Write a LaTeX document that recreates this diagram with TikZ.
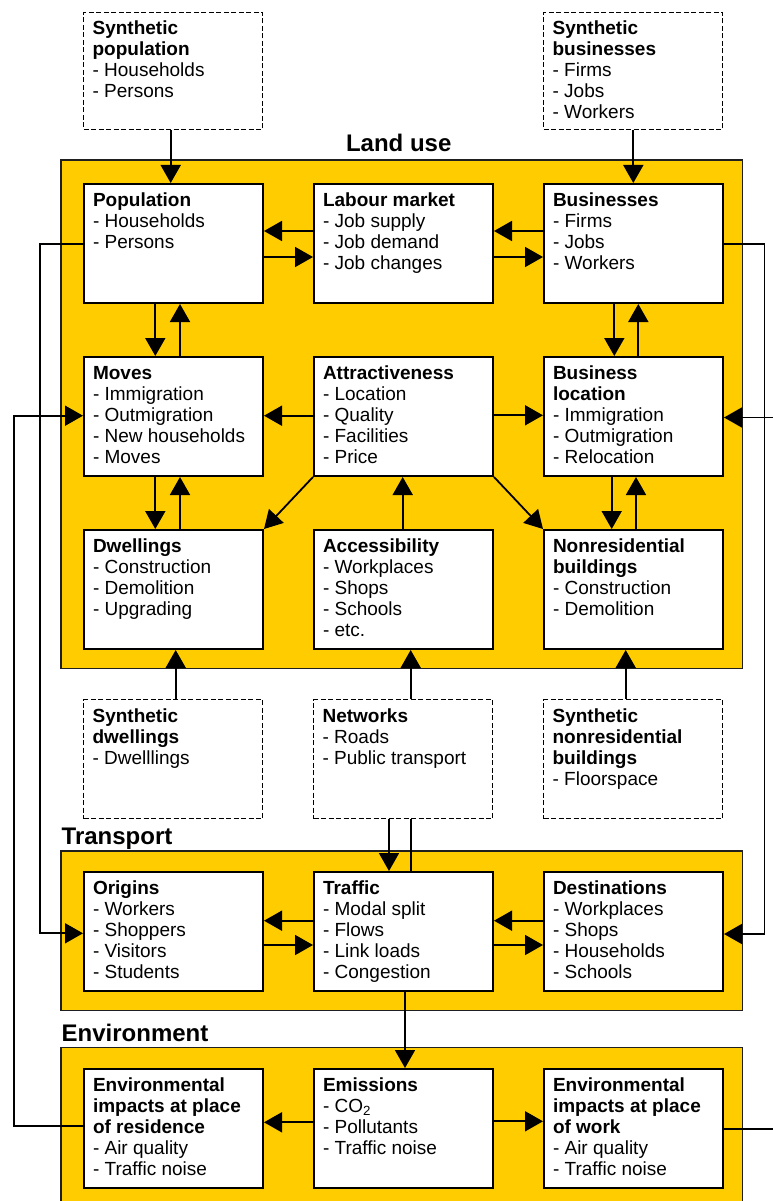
\documentclass[tikz,border=0pt]{standalone}
\usepackage{fontspec}
\setmainfont{Liberation Sans}
\usetikzlibrary{arrows.meta}
\definecolor{luyellow}{RGB}{255,204,0}
\newcommand\boxfont{\fontsize{19}{21}\selectfont}
\newcommand\bt[2][119pt]{\parbox[c][#1][t]{161pt}{\vspace*{7.8pt}\raggedright\strut #2}}
\tikzset{
  bx/.style={draw=black, line width=2pt, fill=white, inner xsep=9pt, inner ysep=0pt, anchor=north west, font=\boxfont},
  dbx/.style={bx, line width=1.2pt, dash pattern=on 5pt off 2.5pt},
  area/.style={draw=black!88, line width=1.4pt, fill=luyellow},
  arr/.style={line width=1.8pt, -{Triangle[length=18pt,width=20pt]}},
  ln/.style={line width=1.8pt},
  ttl/.style={font=\fontsize{24}{28}\selectfont\bfseries, inner sep=0pt}
}
\begin{document}
\begin{tikzpicture}[x=1pt,y=-1pt]
\useasboundingbox (0,0) rectangle (773,1201);
\clip (0,0) rectangle (773,1201);
\fill[white] (0,0) rectangle (773,1201);
% areas
\path[area] (61,160) rectangle (742.7,668.3);
\path[area] (61,851) rectangle (742.7,1010.7);
\path[area] (61,1047.7) rectangle (742.7,1215);
\node[ttl, anchor=base] (tland) at (398.7,151.7) {Land use};
\node[ttl, anchor=base west] (ttrans) at (61.5,844) {Transport};
\node[ttl, anchor=base west] (tenv) at (61.5,1041) {Environment};
% row 0
\node[dbx] (synpop) at (83,11.7) {\bt[117pt]{\textbf{Synthetic}\\\textbf{population}\\- Households\\- Persons}};
\node[dbx] (synbus) at (543,11.7) {\bt[117pt]{\textbf{Synthetic}\\\textbf{businesses}\\- Firms\\- Jobs\\- Workers}};
% row 1
\node[bx] (pop) at (83,183) {\bt{\textbf{Population}\\- Households\\- Persons}};
\node[bx] (lab) at (313,183) {\bt{\textbf{Labour market}\\- Job supply\\- Job demand\\- Job changes}};
\node[bx] (bus) at (543,183) {\bt{\textbf{Businesses}\\- Firms\\- Jobs\\- Workers}};
% row 2
\node[bx] (moves) at (83,356) {\bt{\textbf{Moves}\\- Immigration\\- Outmigration\\- New households\\- Moves}};
\node[bx] (attr) at (313,356) {\bt{\textbf{Attractiveness}\\- Location\\- Quality\\- Facilities\\- Price}};
\node[bx] (busloc) at (543,356) {\bt{\textbf{Business}\\\textbf{location}\\- Immigration\\- Outmigration\\- Relocation}};
% row 3
\node[bx] (dwell) at (83,529) {\bt{\textbf{Dwellings}\\- Construction\\- Demolition\\- Upgrading}};
\node[bx] (access) at (313,529) {\bt{\textbf{Accessibility}\\- Workplaces\\- Shops\\- Schools\\- etc.}};
\node[bx] (nonres) at (543,529) {\bt{\textbf{Nonresidential}\\\textbf{buildings}\\- Construction\\- Demolition}};
% row 4
\node[dbx] (syndwell) at (83,699) {\bt{\textbf{Synthetic}\\\textbf{dwellings}\\- Dwelllings}};
\node[dbx] (net) at (313,699) {\bt{\textbf{Networks}\\- Roads\\- Public transport}};
\node[dbx] (synnonres) at (543,699) {\bt{\textbf{Synthetic}\\\textbf{nonresidential}\\\textbf{buildings}\\- Floorspace}};
% row 5
\node[bx] (orig) at (83,871) {\bt{\textbf{Origins}\\- Workers\\- Shoppers\\- Visitors\\- Students}};
\node[bx] (traffic) at (313,871) {\bt{\textbf{Traffic}\\- Modal split\\- Flows\\- Link loads\\- Congestion}};
\node[bx] (dest) at (543,871) {\bt{\textbf{Destinations}\\- Workplaces\\- Shops\\- Households\\- Schools}};
% row 6
\node[bx] (envres) at (83,1068) {\bt{\textbf{Environmental}\\\textbf{impacts at place}\\\textbf{of residence}\\- Air quality\\- Traffic noise}};
\node[bx] (emis) at (313,1068) {\bt{\textbf{Emissions}\\- CO\textsubscript{2}\\- Pollutants\\- Traffic noise}};
\node[bx] (envwork) at (543,1068) {\bt{\textbf{Environmental}\\\textbf{impacts at place}\\\textbf{of work}\\- Air quality\\- Traffic noise}};
% connectors: top inputs
\draw[arr] (synpop.south -| 170.7,0) -- (pop.north -| 170.7,0);
\draw[arr] (synbus.south -| 633.3,0) -- (bus.north -| 633.3,0);
% labour market
\draw[arr] (lab.west |- 0,231) -- (pop.east |- 0,231);
\draw[arr] (pop.east |- 0,257) -- (lab.west |- 0,257);
\draw[arr] (bus.west |- 0,231) -- (lab.east |- 0,231);
\draw[arr] (lab.east |- 0,257) -- (bus.west |- 0,257);
% vertical pairs left
\draw[arr] (pop.south -| 155.3,0) -- (moves.north -| 155.3,0);
\draw[arr] (moves.north -| 180,0) -- (pop.south -| 180,0);
\draw[arr] (moves.south -| 155.3,0) -- (dwell.north -| 155.3,0);
\draw[arr] (dwell.north -| 180,0) -- (moves.south -| 180,0);
% vertical pairs right
\draw[arr] (bus.south -| 614.3,0) -- (busloc.north -| 614.3,0);
\draw[arr] (busloc.north -| 638.3,0) -- (bus.south -| 638.3,0);
\draw[arr] (busloc.south -| 611.7,0) -- (nonres.north -| 611.7,0);
\draw[arr] (nonres.north -| 636,0) -- (busloc.south -| 636,0);
% attractiveness
\draw[arr] (attr.west |- 0,415.7) -- (moves.east |- 0,415.7);
\draw[arr] (attr.east |- 0,415.3) -- (busloc.west |- 0,415.3);
\draw[arr] (attr.south west) -- (dwell.north east);
\draw[arr] (attr.south east) -- (nonres.north west);
\draw[arr] (access.north -| 402.7,0) -- (attr.south -| 402.7,0);
% bottom inputs to land use
\draw[arr] (syndwell.north -| 175.7,0) -- (dwell.south -| 175.7,0);
\draw[arr] (synnonres.north -| 625.7,0) -- (nonres.south -| 625.7,0);
\draw[ln] (traffic.north -| 410.7,0) -- (net.south -| 410.7,0);
\draw[arr] (net.north -| 410.7,0) -- (access.south -| 410.7,0);
\draw[arr] (net.south -| 389,0) -- (traffic.north -| 389,0);
% transport
\draw[arr] (traffic.west |- 0,920.7) -- (orig.east |- 0,920.7);
\draw[arr] (orig.east |- 0,945) -- (traffic.west |- 0,945);
\draw[arr] (dest.west |- 0,920.7) -- (traffic.east |- 0,920.7);
\draw[arr] (traffic.east |- 0,945) -- (dest.west |- 0,945);
\draw[arr] (traffic.south -| 405,0) -- (emis.north -| 405,0);
% environment
\draw[arr] (emis.west |- 0,1122.3) -- (envres.east |- 0,1122.3);
\draw[arr] (emis.east |- 0,1121.3) -- (envwork.west |- 0,1121.3);
% long feedback lines
\coordinate (a1) at (40,243.7);
\coordinate (a2) at (40,933.3);
\draw[arr] (pop.west |- a1) -- (a1) -- (a2) -- (orig.west |- a2);
\coordinate (b1) at (764.5,243.7);
\coordinate (b2) at (764.5,934);
\draw[arr] (bus.east |- b1) -- (b1) -- (b2) -- (dest.east |- b2);
\coordinate (c1) at (13.7,1126);
\coordinate (c2) at (13.7,415.7);
\draw[arr] (envres.west |- c1) -- (c1) -- (c2) -- (moves.west |- c2);
\coordinate (d1) at (781,1129.3);
\coordinate (d2) at (781,417.5);
\draw[arr] (envwork.east |- d1) -- (d1) -- (d2) -- (busloc.east |- d2);
\end{tikzpicture}
\end{document}
